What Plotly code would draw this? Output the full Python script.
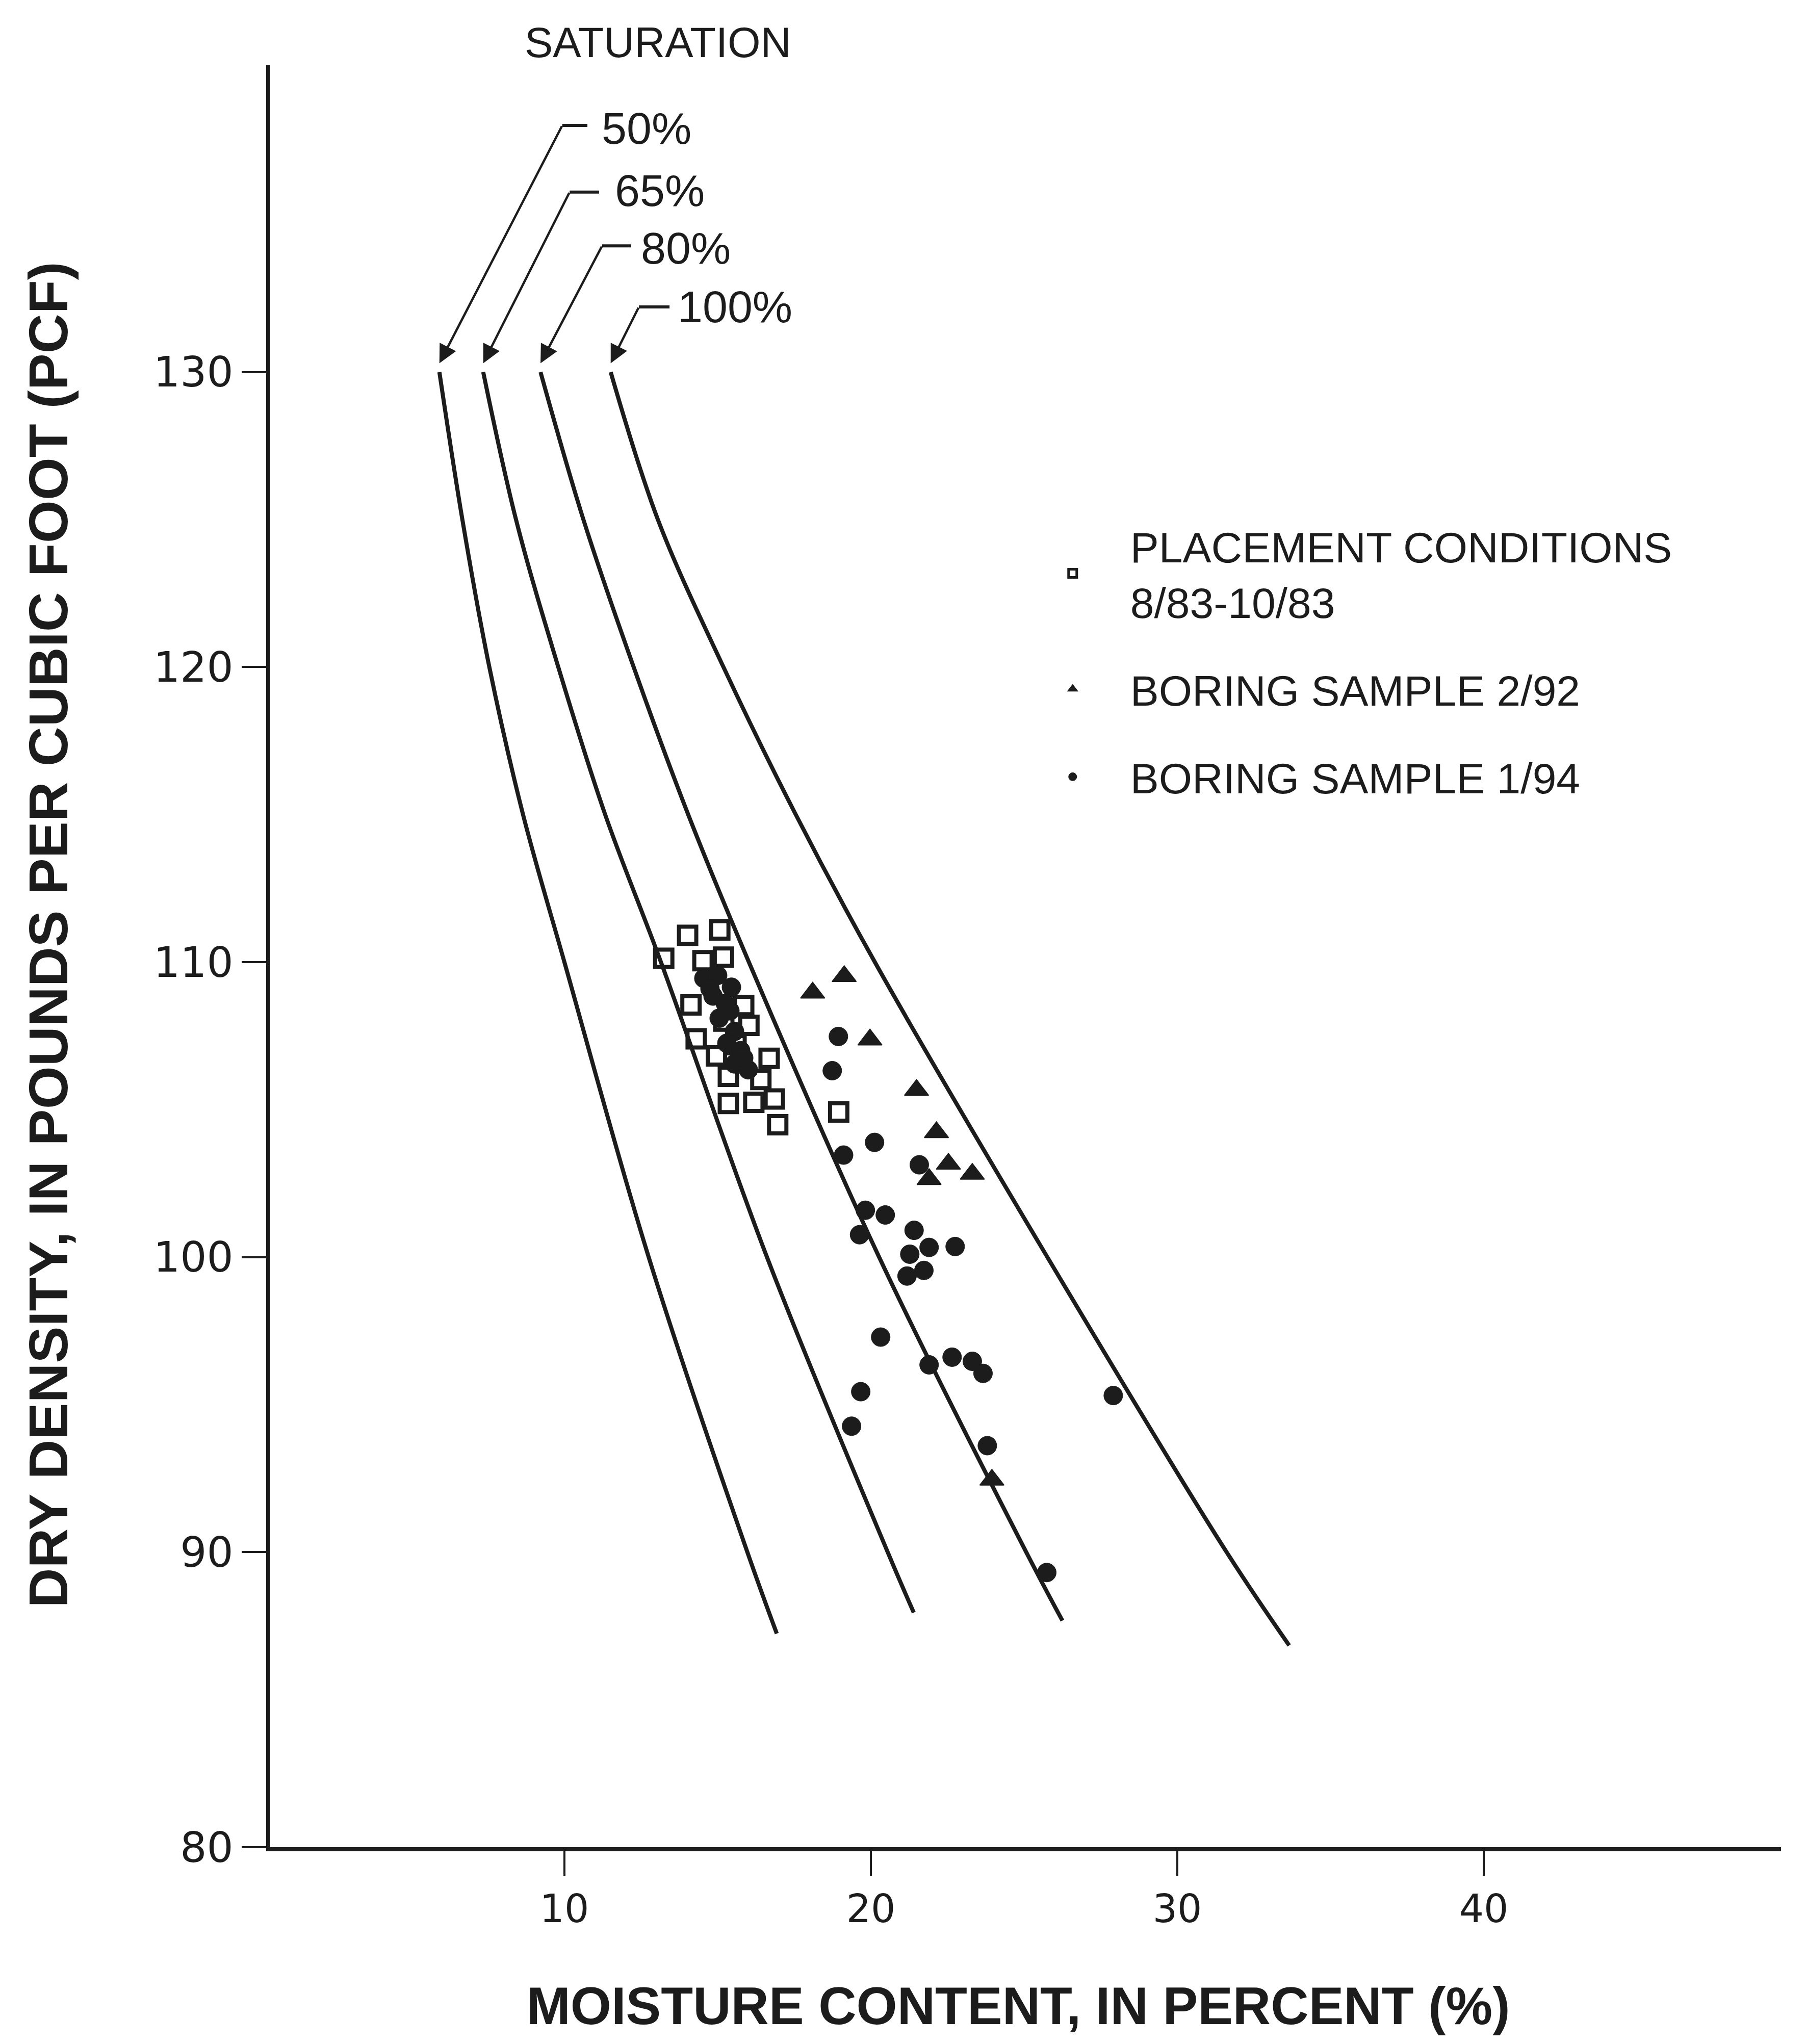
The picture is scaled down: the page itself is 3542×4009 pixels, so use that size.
import plotly.graph_objects as go

# ---------------- data ----------------
# saturation curves (moisture %, dry density pcf)
sat50_x = [5.92, 6.67, 7.55, 8.65, 10.0, 12.75, 15.97, 16.93]
sat50_y = [130, 125, 120, 115, 110, 100, 90, 87.24]
sat65_x = [7.35, 8.42, 9.80, 11.33, 13.15, 16.61, 20.55, 21.40]
sat65_y = [130, 125, 120, 115, 110, 100, 90, 87.95]
sat80_x = [9.22, 10.62, 12.26, 14.04, 16.02, 20.27, 25.07, 26.25]
sat80_y = [130, 125, 120, 115, 110, 100, 90, 87.68]
sat100_x = [11.51, 13.05, 15.19, 17.55, 20.13, 25.76, 31.61, 33.65]
sat100_y = [130, 125, 120, 115, 110, 100, 90, 86.84]

sat_labels = ["50%", "65%", "80%", "100%"]

# placement conditions 8/83-10/83 (open squares)
place_x = [13.24, 14.02, 15.07, 14.52, 15.19, 14.13, 15.85, 14.30, 16.02, 14.96,
           16.68, 15.35, 16.41, 15.35, 16.18, 16.85, 16.96, 18.95, 15.2, 15.6]
place_y = [110.13, 110.91, 111.09, 110.05, 110.17, 108.55, 108.53, 107.40, 107.86, 106.82,
           106.74, 106.13, 106.02, 105.21, 105.25, 105.36, 104.49, 104.92, 108.0, 107.2]

# boring sample 2/92 (filled triangles)
b92_x = [18.10, 19.13, 19.97, 21.49, 22.14, 22.53, 21.90, 23.31, 23.95]
b92_y = [108.96, 109.52, 107.37, 105.66, 104.23, 103.16, 102.64, 102.82, 92.45]

# boring sample 1/94 (filled circles)
b94_x = [18.94, 18.74, 20.12, 19.11, 21.58, 19.82, 20.47, 19.63, 21.41, 21.90,
         21.27, 22.75, 21.18, 21.73, 20.32, 21.90, 22.65, 23.31, 23.66, 19.67,
         27.91, 19.37, 23.80, 25.74,
         14.55, 15.00, 15.45, 14.85, 15.25, 15.05, 15.55, 15.30, 15.75, 15.55, 16.00,
         14.75, 15.40, 15.85]
b94_y = [107.48, 106.32, 103.89, 103.46, 103.13, 101.59, 101.43, 100.76, 100.91, 100.33,
         100.10, 100.36, 99.36, 99.55, 97.29, 96.35, 96.61, 96.47, 96.06, 95.44,
         95.31, 94.27, 93.61, 89.31,
         109.45, 109.55, 109.15, 108.85, 108.60, 108.10, 107.65, 107.25, 107.00, 106.55, 106.35,
         109.10, 108.35, 106.75]

x_ticks = [10, 20, 30, 40]
y_ticks = [80, 90, 100, 110, 120, 130]

# ---------------- figure ----------------
INK = "#1c1c1c"
FONT = "Liberation Sans, Arial, sans-serif"

fig = go.Figure()

curves = [(sat50_x, sat50_y), (sat65_x, sat65_y), (sat80_x, sat80_y), (sat100_x, sat100_y)]
for (cx, cy), lab in zip(curves, sat_labels):
    fig.add_trace(go.Scatter(x=cx, y=cy, mode="lines", name=lab + " saturation",
                             line=dict(color=INK, width=8, shape="spline", smoothing=1.0),
                             showlegend=False, hoverinfo="skip"))

fig.add_trace(go.Scatter(x=place_x, y=place_y, mode="markers",
                         name="PLACEMENT CONDITIONS<br>8/83-10/83", legendgroup="a",
                         marker=dict(symbol="square-open", size=34, color=INK,
                                     line=dict(color=INK, width=8))))
fig.add_trace(go.Scatter(x=b92_x, y=b92_y, mode="markers",
                         name="BORING SAMPLE 2/92", legendgroup="b",
                         marker=dict(symbol="triangle-up", size=41, color=INK,
                                     line=dict(color=INK, width=2))))
fig.add_trace(go.Scatter(x=b94_x, y=b94_y, mode="markers",
                         name="BORING SAMPLE 1/94", legendgroup="c",
                         marker=dict(symbol="circle", size=37, color=INK,
                                     line=dict(color=INK, width=1))))

# saturation labels with leader arrows
label_pos = [(11.18, 138.27), (11.61, 136.15), (12.46, 134.20), (13.66, 132.21)]
leader = [((9.93, 10.75), 138.36), ((10.17, 11.13), 136.10),
          ((11.23, 12.18), 134.28), ((12.43, 13.43), 132.21)]
curve_tops = [(c[0][0], c[1][0]) for c in curves]

annotations = []
shapes = []
for lab, (lx, ly), ((hx0, hx1), hy), (tx, ty) in zip(sat_labels, label_pos, leader, curve_tops):
    annotations.append(dict(x=lx, y=ly, xref="x", yref="y", text=lab, showarrow=False,
                            xanchor="left", yanchor="middle",
                            font=dict(family=FONT, size=88, color=INK)))
    annotations.append(dict(x=tx, y=ty + 0.3, xref="x", yref="y", ax=hx0, ay=hy,
                            axref="x", ayref="y", text="", showarrow=True,
                            arrowhead=2, arrowsize=1.6, arrowwidth=4.5, arrowcolor=INK,
                            standoff=0))
    shapes.append(dict(type="line", xref="x", yref="y", x0=hx0, x1=hx1, y0=hy, y1=hy,
                       line=dict(color=INK, width=6)))

annotations.append(dict(x=0.2565, y=1.0126, xref="paper", yref="paper", text="SATURATION",
                        showarrow=False, xanchor="center", yanchor="middle",
                        font=dict(family=FONT, size=83, color=INK)))
annotations.append(dict(x=0.495, y=-0.089, xref="paper", yref="paper",
                        text="<b>MOISTURE CONTENT, IN PERCENT (%)</b>",
                        showarrow=False, xanchor="center", yanchor="middle",
                        font=dict(family=FONT, size=103, color=INK)))
annotations.append(dict(x=-0.1468, y=0.512, xref="paper", yref="paper",
                        text="<b>DRY DENSITY, IN POUNDS PER CUBIC FOOT (PCF)</b>",
                        textangle=-90, showarrow=False, xanchor="center", yanchor="middle",
                        font=dict(family=FONT, size=108, color=INK)))

fig.update_layout(
    width=3542, height=4009,
    margin=dict(l=530, r=49, t=128, b=386),
    paper_bgcolor="white", plot_bgcolor="white",
    font=dict(family=FONT, color=INK),
    annotations=annotations, shapes=shapes,
    showlegend=True,
    legend=dict(x=0.493, y=0.748, xanchor="left", yanchor="top",
                font=dict(family=FONT, size=84, color=INK),
                bgcolor="rgba(0,0,0,0)", itemwidth=216, tracegroupgap=60,
                itemsizing="trace"),
    xaxis=dict(range=[0.4, 49.7], tickmode="array", tickvals=x_ticks,
               ticks="outside", ticklen=48, tickwidth=4, tickcolor=INK,
               showline=True, linewidth=8, linecolor=INK, showgrid=False, zeroline=False,
               tickfont=dict(family="DejaVu Sans, sans-serif", size=76, color=INK)),
    yaxis=dict(range=[80, 140.4], tickmode="array", tickvals=y_ticks,
               ticks="outside", ticklen=48, tickwidth=4, tickcolor=INK,
               showline=True, linewidth=8, linecolor=INK, showgrid=False, zeroline=False,
               tickfont=dict(family="DejaVu Sans, sans-serif", size=82, color=INK)),
)

fig.write_html("out.html")
